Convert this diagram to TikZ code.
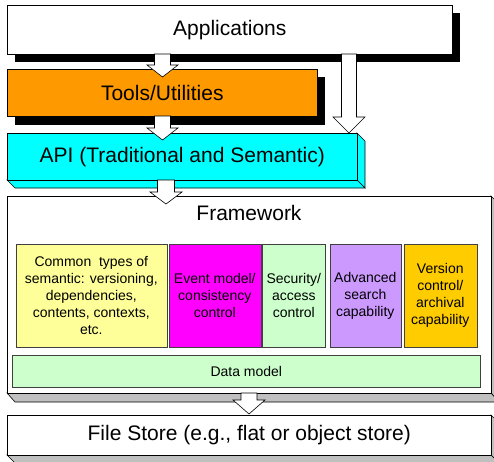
\documentclass[tikz,border=0pt]{standalone}
\usepackage{fontspec}
\setmainfont{Liberation Sans}
\usetikzlibrary{calc}
\definecolor{cToolOr}{HTML}{FF9900}
\definecolor{cApiCy}{HTML}{00FFFF}
\definecolor{cYel}{HTML}{FFFF99}
\definecolor{cMag}{HTML}{FF00FF}
\definecolor{cGrn}{HTML}{CCFFCC}
\definecolor{cLav}{HTML}{CC99FF}
\definecolor{cGold}{HTML}{FFCC00}
\definecolor{cFace}{HTML}{C0C0C0}
\tikzset{
  big/.style={font=\fontsize{21}{25}\selectfont},
  small/.style={font=\fontsize{14}{17}\selectfont, align=center},
  layer/.style={draw=black, line width=0.6pt, anchor=north west, inner sep=0pt, big},
  inbox/.style={draw=black!75, line width=0.6pt, anchor=north west, inner sep=0pt, small},
  shadowbox/.style={fill=black},
  face/.style={draw=black, line width=0.6pt},
  blockarrow/.style n args={3}{draw=black, fill=white, line width=0.6pt, line join=miter,
    to path={($(\tikztostart)+(-#1,0)$) -- ($(\tikztotarget)+(-#1,-#3)$) -- ($(\tikztotarget)+(-#2,-#3)$) -- (\tikztotarget) -- ($(\tikztotarget)+(#2,-#3)$) -- ($(\tikztotarget)+(#1,-#3)$) -- ($(\tikztostart)+(#1,0)$) -- cycle}}
}
\begin{document}
\begin{tikzpicture}[x=1pt,y=-1pt]
\useasboundingbox (0,0) rectangle (494,461);
\clip (0,0) rectangle (494,461);
% Applications
\fill[shadowbox] (15,13) rectangle (460,62);
\node[layer, fill=white, minimum width=445pt, minimum height=49pt] (app) at (7,5) {Applications};
% Tools
\fill[shadowbox] (15,77) rectangle (325,125);
\node[layer, fill=cToolOr, minimum width=310pt, minimum height=47pt] (tools) at (7,69) {Tools/Utilities};
% API 3D
\filldraw[face, fill=cApiCy] (357,133) -- (365,141) -- (365,188) -- (357,180) -- cycle;
\filldraw[face, fill=cApiCy] (7,180) -- (357,180) -- (365,188) -- (15,188) -- cycle;
\node[layer, fill=cApiCy, minimum width=350pt, minimum height=47pt] (api) at (7,133) {API (Traditional and Semantic)};
% Framework 3D
\filldraw[face, fill=cFace] (491,196) -- (499,204) -- (499,402) -- (491,393) -- cycle;
\filldraw[face, fill=cFace] (7,393) -- (491,393) -- (499,402) -- (15,402) -- cycle;
\node[layer, fill=white, minimum width=484pt, minimum height=197pt] (fw) at (7,196) {};
\node[big] (fwlabel) at (249,213) {Framework};
% inner boxes
\node[inbox, fill=cYel, minimum width=151pt, minimum height=103pt] (common) at (15.5,244) {Common~ types of\\semantic: versioning,\\dependencies,\\contents, contexts,\\etc.};
\node[inbox, fill=cMag, minimum width=92pt, minimum height=103pt] (event) at (168.5,244) {Event model/\\consistency\\control};
\node[inbox, fill=cGrn, minimum width=63pt, minimum height=103pt] (sec) at (262,244) {Security/\\access\\control};
\node[inbox, fill=cLav, minimum width=71pt, minimum height=103pt] (search) at (329.5,244) {Advanced\\search\\capability};
\node[inbox, fill=cGold, minimum width=73pt, minimum height=103pt] (ver) at (403.5,244) {Version\\control/\\archival\\capability};
\node[inbox, fill=cGrn, minimum width=468pt, minimum height=32pt] (data) at (12,355) {Data model};
% File store 3D
\filldraw[face, fill=cFace] (491,415) -- (499,423) -- (499,463) -- (491,455) -- cycle;
\filldraw[face, fill=cFace] (7,455) -- (491,455) -- (499,463) -- (15,463) -- cycle;
\node[layer, fill=white, minimum width=484pt, minimum height=40pt] (fs) at (7,415) {File Store (e.g., flat or object store)};
% arrow end points
\coordinate (a1s) at (162.5,54);  \coordinate (a1t) at (162.5,77);
\coordinate (a2s) at (162.5,116); \coordinate (a2t) at (162.5,140);
\coordinate (a3s) at (349,54);    \coordinate (a3t) at (349,133);
\coordinate (a4s) at (166,180);   \coordinate (a4t) at (166,204);
\coordinate (a5s) at (249,393);   \coordinate (a5t) at (249,414);
\draw[blockarrow={8}{15.5}{12}] (a1s) to (a1t);
\draw[blockarrow={8}{15.5}{12}] (a2s) to (a2t);
\draw[blockarrow={7.5}{16}{16}] (a3s) to (a3t);
\draw[blockarrow={8.5}{16}{12}] (a4s) to (a4t);
\draw[blockarrow={8}{16}{14}] (a5s) to (a5t);
\end{tikzpicture}
\end{document}
